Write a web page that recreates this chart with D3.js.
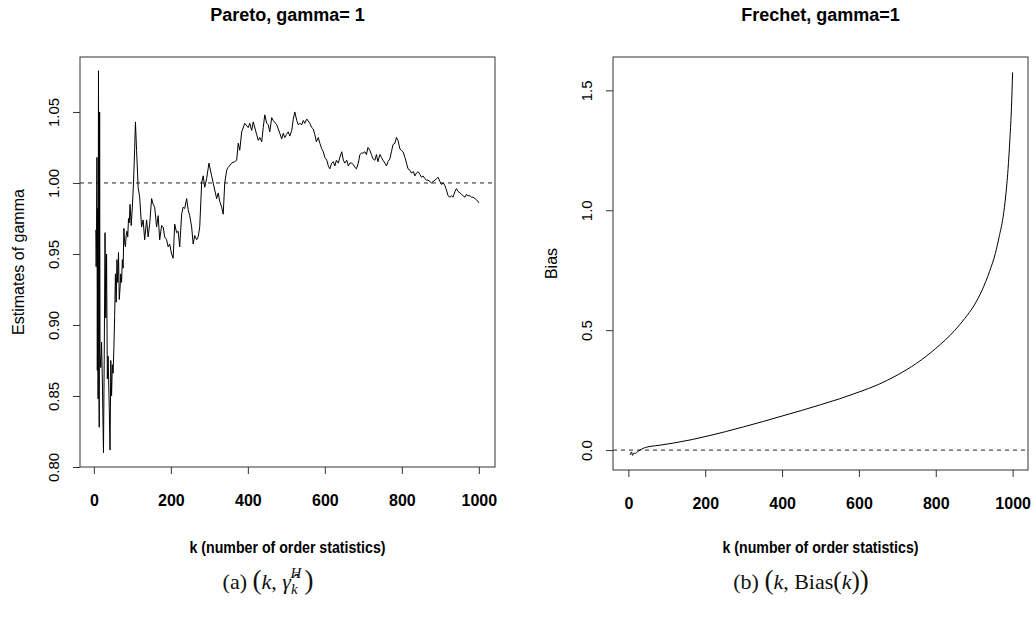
<!DOCTYPE html>
<html>
<head>
<meta charset="utf-8">
<script src="https://cdn.jsdelivr.net/npm/d3@7"></script>
<style>
  body { margin: 0; background: #fff; }
  svg { font-family: "Liberation Sans", Arial, sans-serif; }
  .caption { font-family: "Liberation Serif", "DejaVu Serif", serif; font-size: 22px; fill: #111; }
</style>
</head>
<body>
<div id="chart"></div>
<script>
// ---- data ----
const kHill = [5,6,7,8,9,10,11,12,13,14,15,16,18,20,22,25,27,29,31,33,35,37,40,42,44,46,48,50,52,54,56,58,60,62,64,66,68,70,72,74,76,78,80,82,84,86,88,90,92,94,97,100,103,106,108,111,115,119,124,128,132,137,141,145,150,154,158,163,167,171,176,180,184,189,193,197,202,206,210,215,219,223,228,232,236,241,245,249,254,258,262,267,271,275,280,284,288,293,299,306,310,314,319,323,327,332,336,340,345,349,358,366,371,375,379,384,392,401,405,410,414,423,427,431,436,440,444,449,453,457,462,466,475,479,483,488,492,496,500,505,509,514,518,522,527,531,535,540,544,548,553,561,566,570,574,578,583,587,592,596,600,605,609,613,618,622,626,630,635,639,644,648,652,657,661,665,670,674,678,682,687,691,695,699,704,708,712,717,721,725,730,734,738,743,747,751,756,760,764,769,773,777,782,786,790,795,799,803,808,812,816,821,825,830,834,838,842,847,851,855,860,864,868,873,877,881,886,890,894,899,903,908,912,916,920,925,929,933,938,942,946,951,955,959,964,968,972,977,981,985,990,994,998,1000];
const gammaHill = [0.967,0.941,0.962,1.018,0.868,0.982,0.848,1.079,0.862,0.828,1.050,0.880,0.870,0.888,0.862,0.810,0.880,0.965,0.905,0.950,0.862,0.878,0.842,0.812,0.875,0.850,0.872,0.866,0.884,0.906,0.936,0.916,0.946,0.930,0.951,0.918,0.926,0.936,0.930,0.946,0.940,0.968,0.958,0.955,0.963,0.966,0.962,0.975,0.972,0.985,0.970,0.983,1.000,1.024,1.043,1.023,0.997,0.990,0.969,0.974,0.960,0.974,0.962,0.971,0.989,0.985,0.983,0.969,0.977,0.960,0.970,0.969,0.962,0.960,0.955,0.957,0.950,0.947,0.971,0.965,0.966,0.955,0.978,0.983,0.982,0.989,0.981,0.977,0.969,0.957,0.963,0.960,0.962,0.969,1.000,1.005,0.997,1.003,1.014,1.005,1.000,0.995,0.989,0.993,0.987,0.983,0.978,1.000,1.009,1.011,1.014,1.015,1.016,1.028,1.023,1.036,1.042,1.039,1.042,1.037,1.043,1.034,1.030,1.032,1.029,1.039,1.048,1.042,1.041,1.036,1.046,1.044,1.041,1.038,1.035,1.031,1.035,1.032,1.034,1.036,1.033,1.037,1.045,1.050,1.044,1.041,1.042,1.041,1.044,1.042,1.045,1.042,1.039,1.038,1.034,1.029,1.032,1.028,1.024,1.022,1.018,1.016,1.012,1.010,1.014,1.015,1.012,1.016,1.014,1.018,1.022,1.016,1.014,1.016,1.012,1.014,1.014,1.013,1.011,1.010,1.014,1.020,1.021,1.021,1.022,1.020,1.025,1.023,1.020,1.017,1.016,1.020,1.015,1.020,1.018,1.016,1.014,1.012,1.015,1.017,1.022,1.027,1.028,1.032,1.030,1.024,1.023,1.022,1.018,1.014,1.010,1.009,1.007,1.008,1.005,1.007,1.008,1.006,1.004,1.005,1.003,1.002,1.002,1.001,1.000,1.001,1.002,1.003,1.004,1.001,0.999,1.000,0.998,0.995,0.991,0.990,0.991,0.990,0.994,0.996,0.994,0.993,0.992,0.991,0.990,0.992,0.991,0.991,0.990,0.990,0.989,0.988,0.987,0.986];

const kBias = [5,8,11,14,18,25,45,80,120,166,210,253,300,350,400,450,500,550,600,650,700,750,800,850,875,900,920,940,955,965,975,982,988,993,997,1000];
const biasVals = [-0.020,-0.008,-0.022,-0.012,-0.014,-0.005,0.011,0.020,0.030,0.044,0.060,0.077,0.097,0.119,0.142,0.165,0.189,0.214,0.242,0.273,0.313,0.362,0.424,0.500,0.548,0.604,0.665,0.745,0.820,0.890,0.970,1.060,1.170,1.300,1.430,1.575];

const kTicks = [0, 200, 400, 600, 800, 1000];
const hillTicks = [0.80, 0.85, 0.90, 0.95, 1.00, 1.05];
const biasTicks = [0.0, 0.5, 1.0, 1.5];

const W = 1035, H = 628;
const svg = d3.select('#chart').append('svg').attr('width', W).attr('height', H);

function drawPanel({box, xDomain, yDomain, xs, ys, curve, yTicks, yFmt, refLine, title, yLabel}){
    const x = d3.scaleLinear().domain(xDomain).range([box.left, box.right]);
    const y = d3.scaleLinear().domain(yDomain).range([box.bottom, box.top]);
    const g = svg.append('g');

    // reference line
    g.append('line')
        .attr('x1', box.left).attr('x2', box.right)
        .attr('y1', y(refLine)).attr('y2', y(refLine))
        .attr('stroke', '#222').attr('stroke-width', 1).attr('stroke-dasharray', '4,4');

    // data path
    const line = d3.line().x(d => x(d[0])).y(d => y(d[1])).curve(curve);
    g.append('path')
        .datum(d3.zip(xs, ys))
        .attr('fill', 'none').attr('stroke', '#000').attr('stroke-width', 1)
        .attr('stroke-linejoin', 'round')
        .attr('d', line);

    // x axis
    const xa = g.append('g').attr('transform', `translate(0,${box.bottom})`)
        .call(d3.axisBottom(x).tickValues(kTicks).tickSize(7).tickSizeOuter(0).tickFormat(d3.format('d')));
    xa.select('.domain').remove();
    xa.selectAll('line').attr('stroke', '#333');
    xa.selectAll('text').attr('y', 33).attr('dy', '0.35em')
        .style('font-size', '16px').style('font-weight', 'bold').attr('fill', '#000');

    // y axis
    const ya = g.append('g').attr('transform', `translate(${box.left},0)`)
        .call(d3.axisLeft(y).tickValues(yTicks).tickSize(7).tickSizeOuter(0).tickFormat(yFmt));
    ya.select('.domain').remove();
    ya.selectAll('line').attr('stroke', '#333');
    ya.selectAll('text')
        .attr('transform', 'rotate(-90)')
        .attr('x', 0).attr('y', -26).attr('dy', '0.35em')
        .attr('text-anchor', 'middle')
        .style('font-size', '15px').attr('fill', '#000');

    // box
    g.append('rect')
        .attr('x', box.left).attr('y', box.top)
        .attr('width', box.right - box.left).attr('height', box.bottom - box.top)
        .attr('fill', 'none').attr('stroke', '#333').attr('stroke-width', 1);

    const cx = (box.left + box.right) / 2;
    g.append('text').attr('x', cx).attr('y', 15).attr('dy', '0.35em')
        .attr('text-anchor', 'middle').style('font-size', '18px').style('font-weight', 'bold')
        .text(title);
    g.append('text').attr('x', cx).attr('y', 547).attr('dy', '0.35em')
        .attr('text-anchor', 'middle').style('font-size', '16px').style('font-weight', 'bold')
        .attr('textLength', 196).attr('lengthAdjust', 'spacingAndGlyphs')
        .text('k (number of order statistics)');
    g.append('text')
        .attr('transform', `translate(${box.left - 62},${(box.top + box.bottom) / 2}) rotate(-90)`)
        .attr('dy', '0.35em').attr('text-anchor', 'middle').style('font-size', '16px')
        .text(yLabel);
}

drawPanel({
    box: {left: 80, right: 495, top: 57, bottom: 467},
    xDomain: [-36, 1042], yDomain: [0.8, 1.0887],
    xs: kHill, ys: gammaHill, curve: d3.curveLinear, yTicks: hillTicks, yFmt: d3.format('.2f'),
    refLine: 1, title: 'Pareto, gamma= 1', yLabel: 'Estimates of gamma'
});
drawPanel({
    box: {left: 613, right: 1028, top: 57, bottom: 470},
    xDomain: [-40, 1040], yDomain: [-0.083, 1.639],
    xs: kBias, ys: biasVals, curve: d3.curveMonotoneX, yTicks: biasTicks, yFmt: d3.format('.1f'),
    refLine: 0, title: 'Frechet, gamma=1', yLabel: 'Bias'
});

// sub-figure captions
const capA = svg.append('text').attr('class', 'caption').attr('x', 268).attr('y', 589).attr('text-anchor', 'middle');
capA.append('tspan').text('(a) ');
capA.append('tspan').style('font-size', '27px').text('(');
capA.append('tspan').style('font-style', 'italic').text('k');
capA.append('tspan').text(', ');
capA.append('tspan').style('font-style', 'italic').text('\u03B3\u0302');
capA.append('tspan').style('font-style', 'italic').style('font-size', '15px').attr('dy', 5).text('k');
capA.append('tspan').style('font-style', 'italic').style('font-size', '15px').attr('dx', -7).attr('dy', -16).text('H');
capA.append('tspan').style('font-size', '27px').attr('dx', 3).attr('dy', 11).text(')');

const capB = svg.append('text').attr('class', 'caption').attr('x', 801).attr('y', 589).attr('text-anchor', 'middle');
capB.append('tspan').text('(b) ');
capB.append('tspan').style('font-size', '27px').text('(');
capB.append('tspan').style('font-style', 'italic').text('k');
capB.append('tspan').text(', Bias');
capB.append('tspan').style('font-size', '25px').text('(');
capB.append('tspan').style('font-style', 'italic').text('k');
capB.append('tspan').style('font-size', '25px').text(')');
capB.append('tspan').style('font-size', '27px').text(')');
</script>
</body>
</html>
